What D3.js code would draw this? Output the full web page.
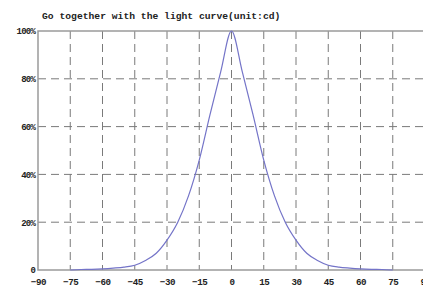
<!DOCTYPE html>
<html>
<head>
<meta charset="utf-8">
<script src="https://cdn.jsdelivr.net/npm/d3@7"></script>
<style>
  body { margin: 0; background: #fff; }
  svg { display: block; }
</style>
</head>
<body>
<div id="chart"></div>
<script>
var angles = [-75, -70, -65, -60, -55, -50, -45, -40, -35, -30, -25, -20, -15, -10, -5, 0,
              5, 10, 15, 20, 25, 30, 35, 40, 45, 50, 55, 60, 65, 70, 75];
var intensity = [0, 0.2, 0.3, 0.5, 0.8, 1.2, 2, 4, 7, 12.5, 20, 31, 46, 65, 83, 100,
                 83, 65, 46, 31, 20, 12.5, 7, 4, 2, 1.2, 0.8, 0.5, 0.3, 0.2, 0];
var xTicks = [-90, -75, -60, -45, -30, -15, 0, 15, 30, 45, 60, 75, 90];
var yTicks = [0, 20, 40, 60, 80, 100];
var title = 'Go together with the light curve(unit:cd)';

var width = 423, height = 290;
var plotLeft = 38, plotRight = 425, plotTop = 31, plotBottom = 270;

var svg = d3.select('#chart').append('svg').attr('width', width).attr('height', height);

var x = d3.scaleLinear().domain([-90, 90]).range([plotLeft, plotRight]);
var y = d3.scaleLinear().domain([0, 100]).range([plotBottom, plotTop]);

var font = '"Liberation Mono", "DejaVu Sans Mono", monospace';

// dashed grid
svg.selectAll('.vgrid')
   .data(xTicks.filter(function (d) { return d > -90 && d < 90; }))
   .enter().append('line')
   .attr('x1', function (d) { return x(d); })
   .attr('x2', function (d) { return x(d); })
   .attr('y1', plotTop).attr('y2', plotBottom)
   .attr('stroke', '#7a7a7a').attr('stroke-width', 1)
   .attr('stroke-dasharray', '8,5');

svg.selectAll('.hgrid')
   .data(yTicks.filter(function (d) { return d > 0 && d < 100; }))
   .enter().append('line')
   .attr('x1', plotLeft).attr('x2', plotRight)
   .attr('y1', function (d) { return y(d); })
   .attr('y2', function (d) { return y(d); })
   .attr('stroke', '#7a7a7a').attr('stroke-width', 1)
   .attr('stroke-dasharray', '8,5');

// frame
svg.append('rect')
   .attr('x', plotLeft).attr('y', plotTop)
   .attr('width', plotRight - plotLeft).attr('height', plotBottom - plotTop)
   .attr('fill', 'none').attr('stroke', '#9a9a9a').attr('stroke-width', 1.5);

// axes
var xAxis = svg.append('g')
   .attr('transform', 'translate(0,' + plotBottom + ')')
   .call(d3.axisBottom(x).tickValues(xTicks).tickSize(0).tickPadding(8));
xAxis.select('.domain').remove();
xAxis.selectAll('text')
   .attr('font-family', font).attr('font-weight', 'bold')
   .attr('font-size', 9.2).attr('fill', '#222')
   .attr('letter-spacing', -0.4);

var yAxis = svg.append('g')
   .attr('transform', 'translate(' + plotLeft + ',0)')
   .call(d3.axisLeft(y).tickValues(yTicks).tickSize(0).tickPadding(3)
      .tickFormat(function (d) { return d === 0 ? '0' : d + '%'; }));
yAxis.select('.domain').remove();
yAxis.selectAll('text')
   .attr('font-family', font).attr('font-weight', 'bold')
   .attr('font-size', 9).attr('fill', '#222')
   .attr('letter-spacing', -0.8);

// curve
var line = d3.line()
   .x(function (d, i) { return x(angles[i]); })
   .y(function (d) { return y(d); })
   .curve(d3.curveMonotoneX);

svg.append('path')
   .datum(intensity)
   .attr('d', line)
   .attr('fill', 'none')
   .attr('stroke', '#7474c8')
   .attr('stroke-width', 1.2);

// title
svg.append('text')
   .attr('x', 42).attr('y', 19)
   .attr('font-family', font).attr('font-weight', 'bold')
   .attr('font-size', 9.7).attr('fill', '#222')
   .text(title);
</script>
</body>
</html>
